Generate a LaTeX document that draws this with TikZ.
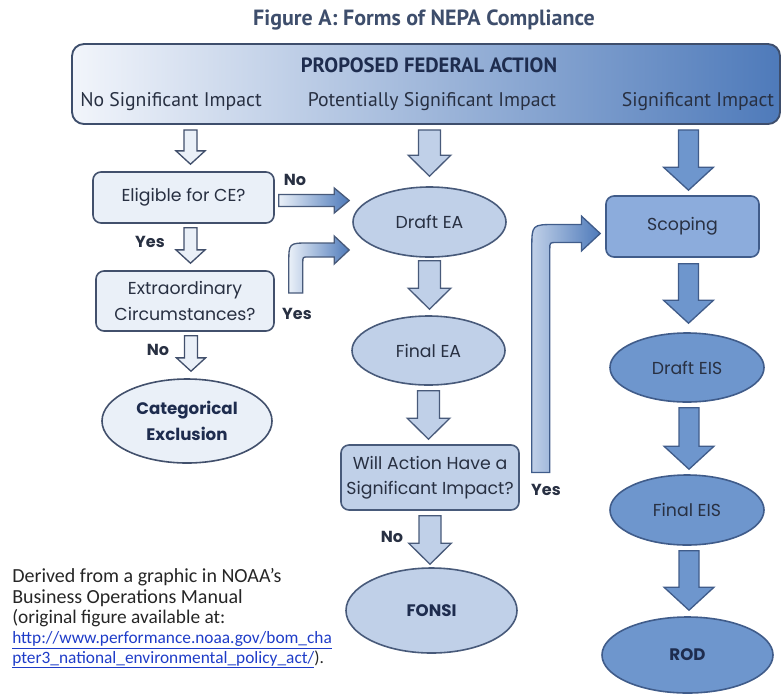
\documentclass[tikz,border=0pt]{standalone}
\usepackage{fontspec}
\setmainfont{Poppins}
\newfontfamily\hdrfont{PT Sans}
\newfontfamily\capfont{Carlito}
\usetikzlibrary{shapes.geometric,calc}

\definecolor{inkc}{RGB}{40,48,66}
\definecolor{navyc}{RGB}{30,44,78}
\definecolor{hdrline}{RGB}{62,78,108}
\definecolor{hdrleft}{RGB}{242,245,251}
\definecolor{paleA}{RGB}{234,240,248}
\definecolor{lineA}{RGB}{66,80,108}
\definecolor{paleB}{RGB}{192,208,232}
\definecolor{lineB}{RGB}{72,90,122}
\definecolor{midC}{RGB}{110,150,205}
\definecolor{scopC}{RGB}{140,172,220}
\definecolor{lineC}{RGB}{64,92,138}
\definecolor{deepC}{RGB}{78,122,186}
\definecolor{linkc}{RGB}{30,60,200}

% down arrow: style, from, to, shaft half, head half, head length
\newcommand{\blockdown}[6]{%
  \draw[#1] let \p1=(#2), \p2=(#3) in
    (\x1-#4,\y1) -- (\x1+#4,\y1) -- (\x1+#4,\y2+#6) -- (\x1+#5,\y2+#6)
    -- (\x1,\y2) -- (\x1-#5,\y2+#6) -- (\x1-#4,\y2+#6) -- cycle;}
% right arrow: style, from, to, shaft half, head half, head length
\newcommand{\blockright}[6]{%
  \draw[#1] let \p1=(#2), \p2=(#3) in
    (\x1,\y1-#4) -- (\x1,\y1+#4) -- (\x2-#6,\y1+#4) -- (\x2-#6,\y1+#5)
    -- (\x2,\y1) -- (\x2-#6,\y1-#5) -- (\x2-#6,\y1-#4) -- cycle;}
% up then right: style, from, to, shaft half, head half, head length, outer r, inner r
\newcommand{\blockbend}[8]{%
  \draw[#1] let \p1=(#2), \p2=(#3) in
    (\x1-#4,\y1) -- (\x1-#4,\y2+#4-#7) .. controls (\x1-#4,\y2+#4) .. (\x1-#4+#7,\y2+#4)
    -- (\x2-#6,\y2+#4) -- (\x2-#6,\y2+#5) -- (\x2,\y2) -- (\x2-#6,\y2-#5)
    -- (\x2-#6,\y2-#4) -- (\x1+#4+#8,\y2-#4) .. controls (\x1+#4,\y2-#4) .. (\x1+#4,\y2-#4-#8)
    -- (\x1+#4,\y1) -- cycle;}

\begin{document}
\begin{tikzpicture}[x=0.75pt,y=-0.75pt,
    boxtxt/.style={text=inkc,font=\fontsize{13}{19}\selectfont,align=center,inner sep=0pt},
    boldtxt/.style={text=navyc,font=\fontsize{12.5}{19}\selectfont\bfseries,align=center,inner sep=0pt},
    lbl/.style={text=inkc,font=\fontsize{12}{14}\selectfont\bfseries,inner sep=0pt},
    hdrtxt/.style={text=inkc,font=\hdrfont\fontsize{14.8}{16}\selectfont,inner sep=0pt},
    notetxt/.style={anchor=base west,inner sep=0pt,text=black!85,font=\capfont\fontsize{13}{15}\selectfont},
    boxA/.style={draw=lineA,line width=1.2pt,fill=paleA,rounded corners=6pt},
    boxB/.style={draw=lineB,line width=1.2pt,fill=paleB,rounded corners=6pt},
    boxC/.style={draw=lineC,line width=1.2pt,fill=scopC,rounded corners=6pt},
    ellA/.style={ellipse,draw=lineA,line width=1.2pt,fill=paleA},
    ellB/.style={ellipse,draw=lineB,line width=1.2pt,fill=paleB},
    ellC/.style={ellipse,draw=lineC,line width=1.2pt,fill=midC},
    arrA/.style={draw=lineA,line width=1pt,fill=paleA},
    arrB/.style={draw=lineB,line width=1pt,fill=paleB},
    arrC/.style={draw=lineC,line width=1pt,fill=midC},
    arrG/.style={draw=lineB,line width=1pt,left color=paleA,right color=deepC},
  ]
  \useasboundingbox (0,0) rectangle (782,694);

  % title and header
  \node (title) [text=hdrline,font=\hdrfont\fontsize{16.5}{18}\selectfont\bfseries] at (424,20) {Figure A: Forms of NEPA Compliance};
  \node (header) [draw=hdrline,line width=1.4pt,rounded corners=9pt,
    left color=hdrleft,right color=deepC,
    minimum width=531pt,minimum height=60pt] at (426,84) {};
  \node (action) [text=navyc,font=\hdrfont\fontsize{15.5}{17}\selectfont\bfseries] at (429,65) {PROPOSED FEDERAL ACTION};
  \node (nosig) [hdrtxt] at (171,102) {No Significant Impact};
  \node (potsig) [hdrtxt] at (432,102) {Potentially Significant Impact};
  \node (sig) [hdrtxt] at (698,102) {Significant Impact};

  % no significant impact
  \node (elig) [boxA,boxtxt,minimum width=135.75pt,minimum height=38.25pt] at (183.5,197.5) {Eligible for CE?};
  \node (extra) [boxA,boxtxt,minimum width=133.5pt,minimum height=45pt] at (185,301) {Extraordinary\\Circumstances?};
  \node (catex) [ellA,boldtxt,minimum width=127.5pt,minimum height=63pt] at (187,421) {Categorical\\Exclusion};

  % potentially significant impact
  \node (dea) [ellB,boxtxt,minimum width=114.75pt,minimum height=52.5pt] at (429.5,222) {Draft EA};
  \node (fea) [ellB,boxtxt,minimum width=114.75pt,minimum height=51.75pt] at (428.5,350.5) {Final EA};
  \node (will) [boxB,boxtxt,minimum width=133.5pt,minimum height=48.75pt] at (430,477.5) {Will Action Have a\\Significant Impact?};
  \node (fonsi) [ellB,boldtxt,minimum width=128.25pt,minimum height=63.75pt] at (431.5,610.5) {FONSI};

  % significant impact
  \node (scop) [boxC,boxtxt,minimum width=114.75pt,minimum height=45.75pt] at (682.5,226.5) {Scoping};
  \node (deis) [ellC,boxtxt,minimum width=115.5pt,minimum height=51.75pt] at (687,367.5) {Draft EIS};
  \node (feis) [ellC,boxtxt,minimum width=115.5pt,minimum height=52.5pt] at (687,510) {Final EIS};
  \node (rod) [ellC,boldtxt,minimum width=128.25pt,minimum height=57pt] at (687.5,655) {ROD};

  % column arrows
  \blockdown{arrA}{$(header.south -| elig.north)+(7,5)$}{$(elig.north)+(7,-7)$}{4.9pt}{10.9pt}{10pt}
  \blockdown{arrA}{$(elig.south)+(7,4)$}{$(extra.north)+(7,-7)$}{4.9pt}{10.9pt}{10pt}
  \blockdown{arrA}{$(extra.south)+(6,4)$}{$(catex.north)+(6,-7)$}{4.9pt}{10.9pt}{10pt}
  \blockdown{arrB}{$(header.south -| dea.north)+(0,5)$}{$(dea.north)+(0,-10)$}{8.25pt}{16pt}{15.75pt}
  \blockdown{arrB}{$(dea.south)+(0,3)$}{$(fea.north)+(0,-6)$}{8.25pt}{16pt}{15.75pt}
  \blockdown{arrB}{$(fea.south)+(0,5)$}{$(will.north)+(0,-5)$}{8.25pt}{16pt}{15.75pt}
  \blockdown{arrB}{$(will.south)+(0,5)$}{$(fonsi.north)+(0,-3)$}{8.25pt}{16pt}{15.75pt}
  \blockdown{arrC}{$(header.south -| scop.north)+(6,5)$}{$(scop.north)+(6,-5)$}{7.5pt}{18.75pt}{17.25pt}
  \blockdown{arrC}{$(scop.south)+(6,6)$}{$(deis.north)+(6,-9)$}{7.5pt}{18.75pt}{17.25pt}
  \blockdown{arrC}{$(deis.south)+(2,5)$}{$(feis.north)+(2,-5)$}{7.5pt}{18.75pt}{17.25pt}
  \blockdown{arrC}{$(feis.south)+(2,5)$}{$(rod.north)+(2,-6)$}{7.5pt}{18.75pt}{17.25pt}

  % branch arrows
  \blockright{arrG}{$(elig.east)+(4,3)$}{$(elig.east -| dea.west)+(-3,3)$}{4.5pt}{9.4pt}{11.25pt}
  \coordinate (extraup) at ($(extra.east)+(21,-8)$);
  \coordinate (deatip) at ($(dea.west)+(-3,28)$);
  \blockbend{arrG}{extraup}{deatip}{5.25pt}{10.5pt}{11.25pt}{15pt}{4pt}
  \coordinate (willup) at ($(will.east)+(21,-5)$);
  \coordinate (scoptip) at ($(scop.west)+(-5,7)$);
  \blockbend{draw=lineC,line width=1pt,left color=paleB,right color=deepC}{willup}{scoptip}{6.75pt}{13pt}{14pt}{18pt}{5pt}

  % branch labels
  \node (noA) [lbl] at (295,180) {No};
  \node (yesA) [lbl] at (150,242) {Yes};
  \node (yesB) [lbl] at (297,314) {Yes};
  \node (noB) [lbl] at (158,350) {No};
  \node (yesC) [lbl] at (546,490) {Yes};
  \node (noC) [lbl] at (392,537) {No};

  % source note
  \node (note1) [notetxt,font=\capfont\fontsize{15}{15}\selectfont] at (12,582) {Derived from a graphic in NOAA’s};
  \node (note2) [notetxt,font=\capfont\fontsize{15}{15}\selectfont] at (12,603) {Business Operations Manual};
  \node (note3) [notetxt,font=\capfont\fontsize{14.5}{15}\selectfont] at (12,623) {(original figure available at:};
  \node (note4) [notetxt] at (12,643) {\color{linkc}\underline{http://www.performance.noaa.gov/bom\_cha}};
  \node (note5) [notetxt] at (12,663) {{\color{linkc}\underline{pter3\_national\_environmental\_policy\_act/}}).};
\end{tikzpicture}
\end{document}
